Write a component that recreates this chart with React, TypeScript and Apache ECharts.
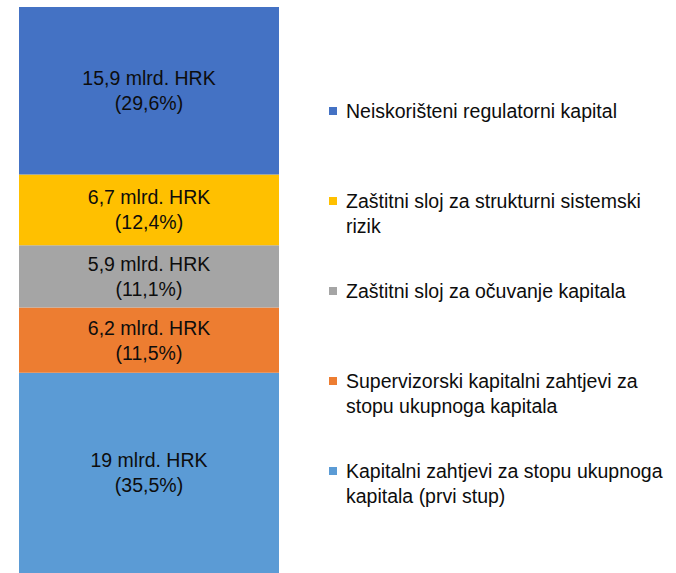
import React, { useEffect, useRef } from "react";
import * as echarts from "echarts";

// Segments, listed bottom to top of the stacked bar
const seriesNames = [
  "Kapitalni zahtjevi za stopu ukupnoga kapitala (prvi stup)",
  "Supervizorski kapitalni zahtjevi za stopu ukupnoga kapitala",
  "Zaštitni sloj za očuvanje kapitala",
  "Zaštitni sloj za strukturni sistemski rizik",
  "Neiskorišteni regulatorni kapital",
];
const valuesBn = [19, 6.2, 5.9, 6.7, 15.9];
const sharesPct = ["35,5", "11,5", "11,1", "12,4", "29,6"];
const colors = ["#5B9BD5", "#ED7D31", "#A5A5A5", "#FFC000", "#4472C4"];
// Legend text as wrapped in the reference
const legendLines: Record<string, string[]> = {
  "Neiskorišteni regulatorni kapital": ["Neiskorišteni regulatorni kapital"],
  "Zaštitni sloj za strukturni sistemski rizik": ["Zaštitni sloj za strukturni sistemski", "rizik"],
  "Zaštitni sloj za očuvanje kapitala": ["Zaštitni sloj za očuvanje kapitala"],
  "Supervizorski kapitalni zahtjevi za stopu ukupnoga kapitala": [
    "Supervizorski kapitalni zahtjevi za",
    "stopu ukupnoga kapitala",
  ],
  "Kapitalni zahtjevi za stopu ukupnoga kapitala (prvi stup)": [
    "Kapitalni zahtjevi za stopu ukupnoga",
    "kapitala (prvi stup)",
  ],
};
const category = [""];

const FONT = "'Liberation Sans', Arial, sans-serif";
const FS = 19.5;
const LH = 25;

export default function App() {
  const ref = useRef<HTMLDivElement>(null);
  useEffect(() => {
    if (!ref.current) return;
    const chart = echarts.init(ref.current, null, { renderer: "svg" });
    const total = valuesBn.reduce((a, b) => a + b, 0);
    chart.setOption({
      animation: false,
      backgroundColor: "#ffffff",
      textStyle: { fontFamily: FONT },
      grid: { left: 19, top: 7, width: 260, height: 570, containLabel: false },
      xAxis: { type: "category", data: category, show: false },
      yAxis: { type: "value", min: 0, max: total, show: false },
      legend: {
        orient: "vertical",
        left: 329,
        top: 73.5,
        padding: 0,
        itemGap: 15,
        itemWidth: 8,
        itemHeight: 8,
        icon: "rect",
        selectedMode: false,
        data: seriesNames.slice().reverse(),
        formatter: (name: string) => {
          const lines = legendLines[name] || [name];
          return lines.length === 1 ? "\n" + lines[0] + "\n" : "\n" + lines.join("\n");
        },
        textStyle: {
          fontFamily: FONT,
          fontSize: FS,
          lineHeight: LH,
          color: "#0d0d0d",
          padding: [0, 0, 0, 4],
        },
      },
      series: seriesNames.map((name, i) => ({
        name,
        type: "bar",
        stack: "total",
        barWidth: "100%",
        data: [valuesBn[i]],
        itemStyle: { color: colors[i] },
        label: {
          show: true,
          position: "inside",
          fontFamily: FONT,
          fontSize: FS,
          lineHeight: LH,
          color: "#0d0d0d",
          formatter: () =>
            `${String(valuesBn[i]).replace(".", ",")} mlrd. HRK\n(${sharesPct[i]}%)`,
        },
        emphasis: { disabled: true },
      })),
    });
    return () => chart.dispose();
  }, []);
  return (
    <div
      ref={ref}
      style={{ position: "absolute", left: 0, top: 0, width: 676, height: 573 }}
    />
  );
}
